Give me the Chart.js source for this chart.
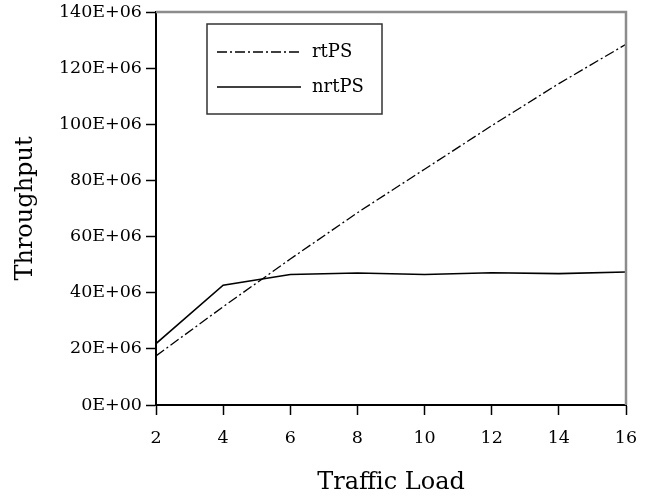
<!DOCTYPE html>
<html>
<head>
<meta charset="utf-8">
<script src="https://cdn.jsdelivr.net/npm/chart.js@4.4.1/dist/chart.umd.min.js"></script>
<style>
  html, body { margin: 0; padding: 0; background: #fff; }
  #wrap { width: 653px; height: 500px; }
</style>
</head>
<body>
<div id="wrap"><canvas id="chart"></canvas></div>
<script>
const trafficLoad = [2, 4, 6, 8, 10, 12, 14, 16];
const rtPS = [17.5e6, 35e6, 52e6, 68.5e6, 84e6, 99.5e6, 114.5e6, 128.5e6];
const nrtPS = [21.9e6, 42.7e6, 46.5e6, 47.0e6, 46.5e6, 47.1e6, 46.8e6, 47.4e6];

const FONT = "'DejaVu Serif', serif";

// legend drawn inside the plot, boxed
const boxLegend = {
  id: 'boxLegend',
  afterDraw(chart) {
    const ctx = chart.ctx;
    const a = chart.chartArea;
    const x0 = a.left + 51, y0 = a.top + 12;
    ctx.save();
    ctx.strokeStyle = '#333';
    ctx.lineWidth = 1.5;
    ctx.strokeRect(x0, y0, 175, 90);
    ctx.font = '18px ' + FONT;
    ctx.fillStyle = '#000';
    ctx.textBaseline = 'middle';
    chart.data.datasets.forEach((ds, i) => {
      const y = y0 + 28 + i * 35;
      ctx.beginPath();
      ctx.setLineDash(ds.borderDash || []);
      ctx.lineWidth = ds.borderWidth;
      ctx.strokeStyle = ds.borderColor;
      ctx.moveTo(x0 + 10, y);
      ctx.lineTo(x0 + 94, y);
      ctx.stroke();
      ctx.setLineDash([]);
      ctx.fillText(ds.label, x0 + 105, y);
    });
    ctx.restore();
  }
};

// grey frame on top and right of the plot
const frame = {
  id: 'frame',
  afterDatasetsDraw(chart) {
    const ctx = chart.ctx;
    const a = chart.chartArea;
    ctx.save();
    ctx.strokeStyle = '#8c8c8c';
    ctx.lineWidth = 2.5;
    ctx.beginPath();
    ctx.moveTo(a.left, a.top);
    ctx.lineTo(a.right, a.top);
    ctx.lineTo(a.right, a.bottom);
    ctx.stroke();
    ctx.restore();
  }
};

const ctx = document.getElementById('chart').getContext('2d');
new Chart(ctx, {
  type: 'line',
  data: {
    datasets: [{
      label: 'rtPS',
      data: trafficLoad.map((x, i) => ({ x: x, y: rtPS[i] })),
      borderColor: '#000',
      borderWidth: 1.3,
      borderDash: [10, 3, 2, 3],
      pointRadius: 0,
      tension: 0,
      fill: false
    }, {
      label: 'nrtPS',
      data: trafficLoad.map((x, i) => ({ x: x, y: nrtPS[i] })),
      borderColor: '#000',
      borderWidth: 1.6,
      pointRadius: 0,
      tension: 0,
      fill: false
    }]
  },
  options: {
    responsive: true,
    maintainAspectRatio: false,
    animation: false,
    layout: { padding: { top: 12, right: 27, left: 0, bottom: 0 } },
    plugins: {
      legend: { display: false },
      tooltip: { enabled: false }
    },
    scales: {
      x: {
        type: 'linear',
        min: 2,
        max: 16,
        afterFit: s => { s.height = 95; s.paddingLeft = 0; s.paddingRight = 0; },
        ticks: {
          stepSize: 2,
          color: '#000',
          padding: 13,
          font: { family: FONT, size: 17.5 }
        },
        grid: {
          drawOnChartArea: false,
          drawTicks: true,
          tickLength: 10,
          tickWidth: 1.5,
          tickColor: '#000'
        },
        border: { color: '#000', width: 2 },
        title: {
          display: true,
          text: 'Traffic Load',
          color: '#000',
          font: { family: FONT, size: 24 },
          padding: { top: 0, bottom: 3 }
        }
      },
      y: {
        min: 0,
        max: 140e6,
        afterFit: s => { s.width = 156; s.paddingTop = 0; s.paddingBottom = 0; },
        ticks: {
          stepSize: 20e6,
          color: '#000',
          padding: 4,
          font: { family: FONT, size: 17.5 },
          callback: v => v === 0 ? '0E+00' : Math.round(v / 1e6) + 'E+06'
        },
        grid: {
          drawOnChartArea: false,
          drawTicks: true,
          tickLength: 10,
          tickWidth: 1.5,
          tickColor: '#000'
        },
        border: { color: '#000', width: 2 },
        title: {
          display: true,
          text: 'Throughput',
          color: '#000',
          font: { family: FONT, size: 24 },
          padding: { top: 11, bottom: 0 }
        }
      }
    }
  },
  plugins: [boxLegend, frame]
});
</script>
</body>
</html>
